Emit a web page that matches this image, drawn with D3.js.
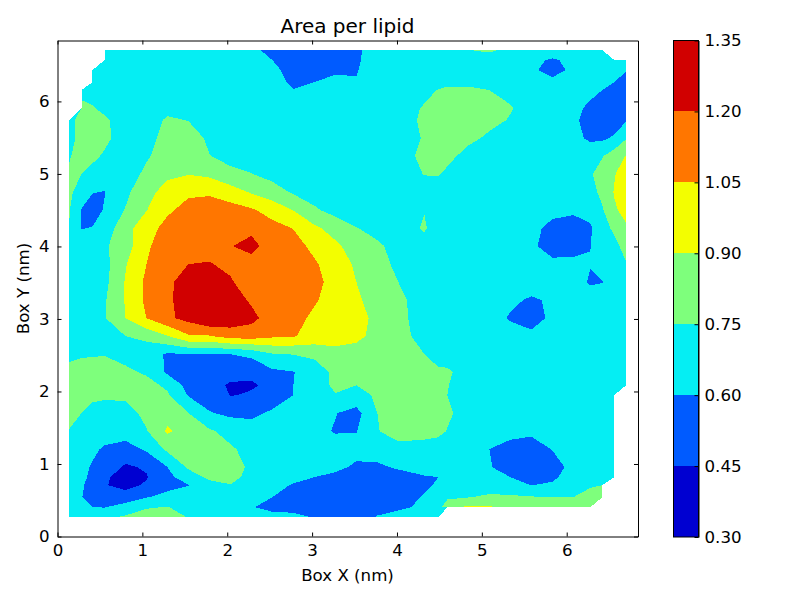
<!DOCTYPE html>
<html>
<head>
<meta charset="utf-8">
<style>
  body { margin: 0; background: #fff; }
  text { font-family: "DejaVu Sans", sans-serif; fill: #000; }
</style>
<script src="https://cdnjs.cloudflare.com/ajax/libs/d3/7.9.0/d3.min.js"></script>
</head>
<body>
<script>
const _ = NaN; // no lipid data at this grid node

// grid nodes in nm, x left to right, y top to bottom
const xNodes = [.141,.283,.412,.554,.801,1.048,1.296,1.543,1.790,2.038,2.285,2.532,2.780,3.027,3.274,3.522,3.769,4.016,4.323,4.488,4.594,4.841,5.088,5.336,5.583,5.830,6.078,6.278,6.419,6.561,6.702];
const yNodes = [6.708,6.570,6.432,6.266,6.156,5.908,5.742,5.494,5.246,4.997,4.749,4.501,4.252,4.004,3.756,3.508,3.259,3.011,2.763,2.515,2.266,2.087,1.949,1.701,1.452,1.204,.956,.818,.708,.542,.404,.266];

// area per lipid (nm^2), one row per yNodes entry
const areaPerLipid = [
  [_,_,_,.68, .68,.68,.68,.68,.68,.68,.63,.56,.52,.50,.50,.575,.67,.70, .70,.72,.73,.748,.77,.72,.70,.65,.67, .69,.70,_,_],
  [_,_,_,.68, .68,.68,.68,.68,.68,.68,.66,.60,.54,.50,.50,.58,.67,.69, .69,.70,.71,.71,.69,.69,.62,.59,.62, .68,.68,.68,.65],
  [_,_,.68,.68, .68,.68,.68,.68,.68,.68,.67,.64,.54,.56,.575,.59,.69,.70, .71,.71,.72,.72,.71,.70,.63,.54,.635, .67,.66,.64,.605],
  [_,_,.68,.68, .68,.68,.68,.68,.68,.68,.68,.66,.57,.60,.64,.61,.68,.71, .68,.71,.725,.725,.71,.68,.62,.64,.62, .67,.64,.60,.56],
  [_,.70,.70,.68, .68,.68,.68,.68,.68,.68,.68,.67,.605,.64,.66,.65,.69,.70, .72,.755,.77,.77,.75,.71,.69,.67,.67, .64,.60,.56,.54],
  [_,.79,.76,.72, .68,.68,.71,.69,.68,.68,.68,.68,.68,.68,.68,.68,.69,.70, .76,.80,.82,.83,.80,.76,.69,.67,.64, .57,.50,.50,.52],
  [.73,.775,.80,.77, .69,.68,.77,.745,.69,.68,.68,.68,.68,.68,.68,.68,.69,.70, .77,.80,.81,.82,.79,.74,.69,.67,.625, .55,.50,.52,.59],
  [.72,.78,.82,.785, .68,.70,.80,.83,.72,.69,.68,.68,.68,.68,.68,.68,.68,.69, .76,.79,.80,.785,.725,.70,.68,.67,.64, .575,.575,.62,.74],
  [.745,.78,.785,.73, .68,.735,.81,.85,.755,.70,.68,.68,.68,.68,.68,.68,.68,.68, .79,.80,.79,.70,.68,.68,.68,.68,.68, .69,.74,.83,.91],
  [.76,.75,.70,.68, .68,.78,.885,.895,.87,.79,.755,.70,.68,.68,.68,.68,.68,.68, .755,.76,.72,.69,.68,.68,.68,.68,.69, .735,.81,.89,.98],
  [.77,.70,.605,.595, .71,.875,.93,1.03,1.03,.97,.885,.82,.73,.69,.68,.68,.68,.68, .68,.68,.68,.68,.68,.68,.68,.68,.69, .70,.785,.91,1.0],
  [.755,.59,.55,.61, .76,.895,1.03,1.09,1.12,1.11,1.07,.99,.895,.77,.70,.68,.68,.68, .745,.68,.68,.68,.68,.68,.68,.65,.63, .65,.735,.88,.95],
  [.745,.595,.605,.67, .84,1.0,1.09,1.13,1.16,1.19,1.17,1.10,1.045,.93,.84,.755,.71,.68, .765,.68,.67,.68,.68,.68,.65,.55,.52, .58,.71,.77,.88],
  [.70,.68,.68,.73, .83,1.03,1.12,1.17,1.17,1.195,1.24,1.14,1.11,1.01,.93,.83,.77,.71, .70,.68,.68,.68,.68,.68,.63,.53,.52, .597,.68,.72,.79],
  [.68,.68,.68,.70, .89,1.05,1.15,1.20,1.205,1.18,1.15,1.13,1.12,1.07,.97,.88,.80,.72, .68,.68,.68,.68,.68,.68,.68,.64,.65, .607,.67,.69,.745],
  [.68,.68,.68,.71, .91,1.08,1.17,1.27,1.28,1.21,1.15,1.13,1.13,1.09,1.0,.90,.81,.75, .68,.68,.68,.68,.68,.68,.67,.68,.68, .58,.595,.67,.68],
  [.68,.68,.68,.735, .91,1.08,1.17,1.28,1.30,1.27,1.18,1.13,1.13,1.065,.99,.93,.82,.78, .69,.68,.68,.68,.67,.63,.58,.62,.68, .69,.68,.68,.68],
  [.68,.68,.68,.74, .90,1.05,1.17,1.25,1.34,1.30,1.24,1.13,1.10,1.02,1.0,.97,.85,.78, .70,.68,.68,.68,.66,.585,.53,.635,.68, .68,.68,.68,.68],
  [.68,.68,.68,.69, .75,.79,.895,1.03,1.04,1.11,1.12,1.075,1.06,1.0,.98,.94,.85,.79, .71,.68,.68,.68,.68,.67,.64,.66,.68, .68,.68,.68,.68],
  [.72,.73,.735,.74, .70,.66,.585,.595,.595,.60,.64,.74,.755,.78,.84,.83,.83,.80, .75,.70,.69,.68,.68,.68,.68,.68,.68, .68,.68,.68,.68],
  [.79,.82,.83,.84, .78,.73,.575,.50,.47,.48,.47,.57,.595,.68,.78,.82,.83,.84, .81,.77,.77,.69,.68,.68,.68,.68,.68, .68,.68,.68,.68],
  [.82,.84,.85,.86, .83,.80,.72,.55,.48,.44,.44,.47,.60,.70,.77,.75,.80,.84, .84,.80,.755,.69,.68,.68,.68,.68,.68, .68,.68,.68,.68],
  [.82,.81,.79,.775, .78,.82,.77,.59,.53,.445,.46,.53,.60,.67,.745,.70,.77,.84, .83,.80,.75,.69,.68,.68,.68,.68,.68, .68,.68,.68,_],
  [.78,.75,.69,.68, .69,.79,.85,.75,.61,.57,.57,.62,.66,.66,.605,.55,.75,.82, .82,.79,.77,.70,.68,.68,.68,.68,.68, .68,.68,.68,_],
  [.745,.68,.67,.67, .67,.74,.92,.84,.77,.70,.66,.68,.68,.64,.59,.595,.745,.79, .785,.775,.745,.69,.67,.645,.63,.67,.68, .68,.68,.68,_],
  [.69,.68,.63,.58, .54,.62,.78,.85,.85,.77,.70,.69,.68,.68,.665,.65,.655,.72, .71,.70,.68,.68,.60,.55,.53,.605,.67, .68,.68,.68,_],
  [.67,.64,.585,.53, .43,.465,.60,.77,.82,.84,.71,.68,.68,.67,.635,.575,.58,.615, .65,.67,.68,.68,.61,.54,.52,.53,.65, .68,.68,.68,_],
  [.66,.62,.58,.47, .40,.44,.56,.68,.78,.79,.71,.66,.635,.60,.565,.52,.52,.55, .59,.60,.67,.68,.66,.60,.55,.58,.65, .70,.72,.68,_],
  [.66,.62,.54,.46, .40,.47,.57,.595,.70,.745,.69,.64,.59,.55,.53,.50,.50,.52, .56,.63,.67,.70,.68,.66,.598,.615,.68, .735,.75,_,_],
  [.66,.605,.54,.50, .52,.595,.63,.68,.68,.68,.66,.60,.56,.52,.50,.49,.49,.50, .62,.66,.72,.745,.775,.77,.76,.755,.75, .80,.78,_,_],
  [.66,.62,.60,.595, .66,.74,.755,.70,.68,.67,.605,.575,.575,.55,.52,.52,.55,.58, .62,.68,.86,.927,.922,.82,.82,.82,.83, .82,_,_,_],
  [.66,.65,.64,.72, .77,.80,.80,.745,.68,.65,.61,.63,.62,.595,.54,.54,.61,.64, .68,.70,_,_,_,_,_,_,_, _,_,_,_]
];

const levels = [0.30, 0.45, 0.60, 0.75, 0.90, 1.05, 1.20, 1.35];
const bandColors = ["#0000d1", "#005bff", "#05eef3", "#7eff7c", "#f3fe00", "#ff7600", "#d10000"];
const axisTicks = [0, 1, 2, 3, 4, 5, 6];

const width = 800, height = 600;
const svg = d3.select("body").append("svg")
  .attr("width", width)
  .attr("height", height)
  .style("display", "block");

const x = d3.scaleLinear().domain([0, 6.84]).range([57.5, 638]);
const y = d3.scaleLinear().domain([0, 6.84]).range([536.5, 40.5]);

// pad the grid with a blank ring so every outer edge runs along the last valid node
const nx = xNodes.length, ny = yNodes.length;
const flat = new Array((nx + 2) * (ny + 2)).fill(NaN);
areaPerLipid.forEach((row, j) => row.forEach((v, i) => {
  flat[(j + 1) * (nx + 2) + i + 1] = v;
}));

const xIndex = d3.scaleLinear().domain(xNodes.map((d, i) => i + 1.5)).range(xNodes);
const yIndex = d3.scaleLinear().domain(yNodes.map((d, i) => i + 1.5)).range(yNodes);

const contours = d3.contours()
  .size([nx + 2, ny + 2])
  .smooth(true)
  .thresholds(levels.slice(0, -1))(flat);

const gridPath = d3.geoPath(d3.geoTransform({
  point(u, v) { this.stream.point(x(xIndex(u)), y(yIndex(v))); }
}));

svg.append("g")
  .selectAll("path")
  .data(contours)
  .join("path")
  .attr("d", gridPath)
  .attr("fill", (d, i) => bandColors[i])
  .attr("shape-rendering", "crispEdges");

// frame and inward ticks on all four sides
function styleAxis(g) {
  g.selectAll(".domain").attr("stroke", "#000").attr("stroke-width", 1);
  g.selectAll(".tick line").attr("stroke", "#000").attr("stroke-width", 1);
  g.selectAll(".tick text").attr("font-size", 16.67).style("font-family", '"DejaVu Sans", sans-serif');
}
const xAxis = d3.axisBottom(x).tickValues(axisTicks).tickFormat(d3.format("d")).tickSizeInner(-4).tickSizeOuter(0).tickPadding(8);
const yAxis = d3.axisLeft(y).tickValues(axisTicks).tickFormat(d3.format("d")).tickSizeInner(-4).tickSizeOuter(0).tickPadding(8);

svg.append("g").attr("transform", `translate(0,${y(0)})`).call(xAxis).call(styleAxis);
svg.append("g").attr("transform", `translate(${x(0)},0)`).call(yAxis).call(styleAxis);
svg.append("g").attr("transform", `translate(0,${y(6.84)})`)
  .call(d3.axisTop(x).tickValues(axisTicks).tickFormat("").tickSizeInner(-4).tickSizeOuter(0)).call(styleAxis);
svg.append("g").attr("transform", `translate(${x(6.84)},0)`)
  .call(d3.axisRight(y).tickValues(axisTicks).tickFormat("").tickSizeInner(-4).tickSizeOuter(0)).call(styleAxis);

svg.append("text").attr("x", 347.5).attr("y", 33).attr("text-anchor", "middle")
  .attr("font-size", 20).text("Area per lipid");
svg.append("text").attr("x", 347.5).attr("y", 581).attr("text-anchor", "middle")
  .attr("font-size", 16.67).text("Box X (nm)");
svg.append("text").attr("transform", "translate(29,288.5) rotate(-90)").attr("text-anchor", "middle")
  .attr("font-size", 16.67).text("Box Y (nm)");

// colorbar
const cbar = d3.scaleLinear().domain([0.30, 1.35]).range([537, 40.5]);
const cbarX = 673.5, cbarW = 25;

svg.append("g")
  .selectAll("rect")
  .data(bandColors)
  .join("rect")
  .attr("x", cbarX)
  .attr("width", cbarW)
  .attr("y", (d, i) => cbar(levels[i + 1]))
  .attr("height", (d, i) => cbar(levels[i]) - cbar(levels[i + 1]))
  .attr("fill", d => d)
  .attr("shape-rendering", "crispEdges");

svg.append("rect")
  .attr("x", cbarX).attr("y", cbar(1.35))
  .attr("width", cbarW).attr("height", cbar(0.30) - cbar(1.35))
  .attr("fill", "none").attr("stroke", "#000");

svg.append("g")
  .attr("transform", `translate(${cbarX + cbarW},0)`)
  .call(d3.axisRight(cbar).tickValues(levels).tickFormat(d3.format(".2f")).tickSizeInner(-4).tickSizeOuter(0).tickPadding(6))
  .call(styleAxis);
</script>
</body>
</html>
